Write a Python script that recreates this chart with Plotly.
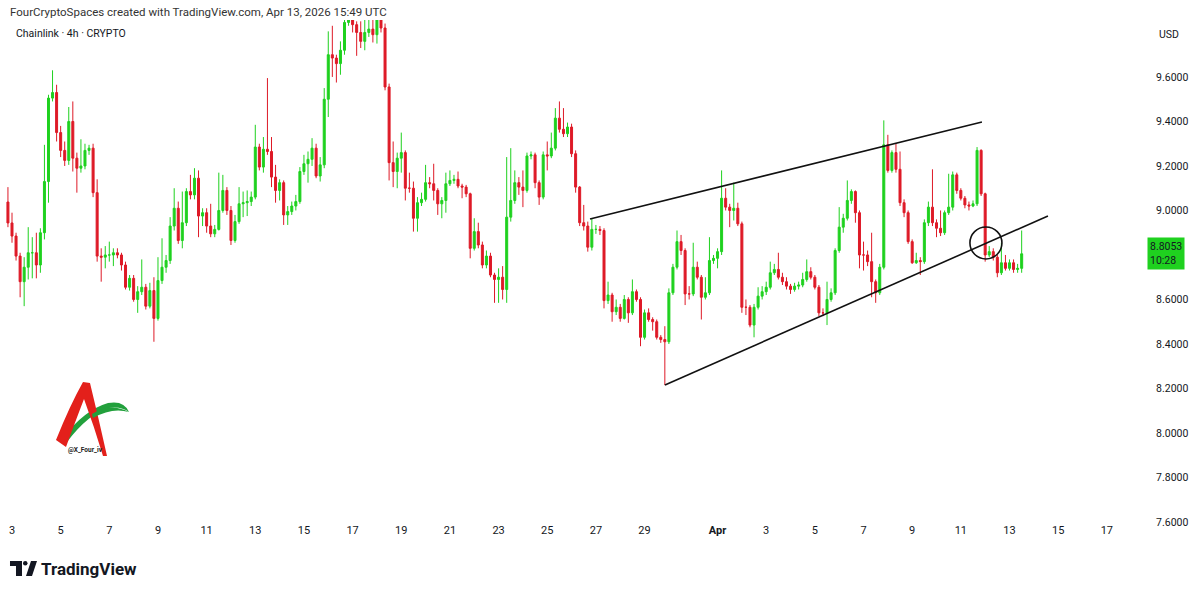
import pandas as pd
import plotly.graph_objects as go

# ---------------- data ----------------
first_open = 9.038
start_time = "2026-03-02 20:00"

closes = [
    8.944,
    8.885, 8.795, 8.68, 8.745, 8.81, 8.81,
    8.755, 8.9, 9.13, 9.505, 9.53, 9.35,
    9.27, 9.225, 9.4, 9.235, 9.19, 9.2,
    9.27, 9.28, 9.08, 8.795, 8.79, 8.8,
    8.8, 8.81, 8.8, 8.755, 8.655, 8.695,
    8.6, 8.635, 8.655, 8.57, 8.64, 8.515,
    8.685, 8.745, 8.775, 8.93, 9.01, 8.865,
    8.945, 9.085, 9.07, 9.145, 8.975, 8.99,
    8.93, 8.895, 8.915, 9.0, 9.09, 9.0,
    8.865, 8.95, 9.03, 9.035, 9.04, 9.06,
    9.285, 9.195, 9.275, 9.265, 9.15, 9.09,
    9.125, 8.98, 8.995, 9.02, 9.04, 9.175,
    9.21, 9.23, 9.28, 9.155, 9.205, 9.5,
    9.7, 9.685, 9.66, 9.72, 9.845, 9.95,
    9.835, 9.8, 9.76, 9.8, 9.815, 9.79,
    9.9, 9.82, 9.555, 9.215, 9.175, 9.235,
    9.26, 9.1, 9.1, 8.965, 9.035, 9.05,
    9.125, 9.12, 9.09, 9.03, 9.045, 9.12,
    9.135, 9.14, 9.11, 9.105, 9.075, 8.83,
    8.905, 8.845, 8.755, 8.795, 8.71, 8.69,
    8.7, 8.645, 8.97, 9.045, 9.125, 9.105,
    9.09, 9.245, 9.25, 9.125, 9.06, 9.25,
    9.245, 9.28, 9.415, 9.365, 9.345, 9.375,
    9.255, 9.105, 8.945, 8.93, 8.835, 8.915,
    8.915, 8.91, 8.595, 8.62, 8.545, 8.565,
    8.515, 8.6, 8.54, 8.635, 8.6, 8.43,
    8.54, 8.51, 8.5, 8.43, 8.42, 8.41,
    8.63, 8.745, 8.86, 8.82, 8.625, 8.625,
    8.745, 8.7, 8.61, 8.63, 8.775, 8.785,
    8.815, 9.055, 9.015, 9.0, 9.01, 8.94,
    8.565, 8.565, 8.485, 8.565, 8.615, 8.635,
    8.655, 8.72, 8.735, 8.7, 8.68, 8.66,
    8.645, 8.66, 8.665, 8.69, 8.725, 8.7,
    8.655, 8.54, 8.54, 8.6, 8.63, 8.82,
    8.925, 8.965, 9.045, 9.085, 8.99, 8.8,
    8.8, 8.77, 8.68, 8.63, 8.745, 9.295,
    9.18, 9.26, 9.185, 9.035, 8.99, 8.86,
    8.765, 8.775, 8.77, 8.945, 9.015, 8.945,
    8.92, 8.9, 8.99, 9.015, 9.16, 9.09,
    9.055, 9.025, 9.02, 9.03, 9.27, 9.075,
    8.8, 8.815, 8.79, 8.72, 8.765, 8.74,
    8.765, 8.735, 8.74, 8.8053,
]

highs = [
    9.105,
    8.99, 8.9, 8.81, 8.79, 8.925, 8.88,
    8.9, 8.92, 9.295, 9.52, 9.63, 9.565,
    9.38, 9.31, 9.465, 9.49, 9.26, 9.32,
    9.3, 9.295, 9.3, 9.14, 8.83, 8.84,
    8.86, 8.83, 8.83, 8.81, 8.77, 8.71,
    8.71, 8.66, 8.78, 8.67, 8.675, 8.7,
    8.79, 8.875, 8.8, 8.97, 9.1, 9.04,
    9.085, 9.1, 9.16, 9.19, 9.18, 9.01,
    9.01, 9.03, 8.935, 9.17, 9.16, 9.105,
    9.02, 8.98, 9.105, 9.085, 9.09, 9.085,
    9.385, 9.3, 9.33, 9.595, 9.33, 9.205,
    9.14, 9.135, 9.02, 9.04, 9.07, 9.195,
    9.25, 9.265, 9.325, 9.3, 9.24, 9.55,
    9.805, 9.83, 9.7, 9.76, 9.9, 10.0,
    9.98, 9.85, 9.85, 9.87, 9.87, 9.87,
    9.95, 9.93, 9.84, 9.57, 9.31, 9.26,
    9.35, 9.27, 9.17, 9.13, 9.06, 9.08,
    9.205, 9.15, 9.21, 9.1, 9.06, 9.17,
    9.18, 9.16, 9.175, 9.12, 9.115, 9.08,
    8.965, 8.945, 8.86, 8.82, 8.81, 8.72,
    8.74, 8.75, 9.24, 9.28, 9.18, 9.15,
    9.18, 9.26, 9.265, 9.26, 9.135, 9.265,
    9.31, 9.35, 9.46, 9.49, 9.46, 9.395,
    9.39, 9.27, 9.11, 9.025, 8.95, 8.965,
    8.935, 8.93, 8.92, 8.68, 8.63, 8.6,
    8.58, 8.62, 8.61, 8.69, 8.645, 8.61,
    8.555, 8.56, 8.52, 8.51, 8.44, 8.48,
    8.65, 8.76, 8.91, 8.89, 8.83, 8.66,
    8.855, 8.77, 8.71, 8.7, 8.88, 8.8,
    8.83, 9.18, 9.1, 9.03, 9.125, 9.035,
    8.95, 8.6, 8.575, 8.58, 8.655, 8.66,
    8.68, 8.77, 8.76, 8.81, 8.72, 8.7,
    8.67, 8.675, 8.68, 8.72, 8.78, 8.745,
    8.71, 8.665, 8.56, 8.68, 8.65, 8.83,
    9.015, 8.985, 9.135, 9.095, 9.09, 9.0,
    8.86, 8.82, 8.9, 8.69, 8.76, 9.405,
    9.34, 9.27, 9.3, 9.265, 9.05, 9.0,
    8.87, 8.81, 8.79, 8.96, 9.04, 9.185,
    8.96, 9.0, 9.0, 9.165, 9.175, 9.17,
    9.1, 9.065, 9.04, 9.045, 9.285, 9.275,
    9.08, 8.84, 8.83, 8.8, 8.855, 8.8,
    8.78, 8.78, 8.76, 8.91,
]

lows = [
    8.925,
    8.855, 8.775, 8.61, 8.57, 8.69, 8.695,
    8.695, 8.72, 8.87, 9.035, 9.49, 9.31,
    9.24, 9.2, 9.205, 9.175, 9.08, 9.17,
    9.185, 9.25, 9.06, 8.77, 8.68, 8.74,
    8.77, 8.75, 8.785, 8.73, 8.645, 8.64,
    8.59, 8.54, 8.62, 8.555, 8.56, 8.41,
    8.505, 8.67, 8.72, 8.76, 8.91, 8.85,
    8.83, 8.93, 9.05, 9.05, 8.88, 8.93,
    8.9, 8.88, 8.88, 8.91, 8.99, 8.98,
    8.845, 8.855, 8.94, 8.97, 8.975, 9.02,
    9.05, 9.18, 9.17, 9.25, 9.105, 9.035,
    9.045, 8.935, 8.935, 8.98, 9.0, 9.03,
    9.16, 9.125, 9.2, 9.145, 9.13, 9.19,
    9.42, 9.6, 9.575, 9.61, 9.7, 9.83,
    9.8, 9.695, 9.73, 9.72, 9.78, 9.755,
    9.75, 9.8, 9.54, 9.135, 9.105, 9.1,
    9.17, 9.045, 9.08, 8.905, 8.905, 9.02,
    9.04, 9.1, 9.045, 8.98, 8.965, 8.99,
    9.11, 9.12, 9.1, 9.055, 9.06, 8.785,
    8.82, 8.83, 8.74, 8.74, 8.7, 8.585,
    8.585, 8.6, 8.585, 8.95, 9.03, 9.07,
    9.015, 9.08, 9.23, 9.1, 9.025, 9.05,
    9.18, 9.235, 9.27, 9.35, 9.33, 9.33,
    9.24, 9.08, 8.93, 8.91, 8.815, 8.82,
    8.895, 8.89, 8.56, 8.58, 8.5, 8.53,
    8.5, 8.51, 8.495, 8.53, 8.59, 8.39,
    8.42, 8.5, 8.46, 8.42, 8.405, 8.215,
    8.4, 8.62, 8.735, 8.8, 8.575, 8.6,
    8.615, 8.69, 8.51, 8.6, 8.62, 8.76,
    8.74, 8.8, 9.0, 8.925, 8.955, 8.93,
    8.54, 8.53, 8.475, 8.43, 8.555, 8.6,
    8.62, 8.645, 8.71, 8.69, 8.665, 8.645,
    8.625, 8.635, 8.645, 8.655, 8.68, 8.69,
    8.645, 8.525, 8.525, 8.485, 8.59, 8.62,
    8.81, 8.9, 8.955, 9.03, 8.945, 8.74,
    8.73, 8.75, 8.61, 8.585, 8.62, 8.735,
    9.17, 9.17, 9.17, 9.02, 8.97, 8.85,
    8.76, 8.76, 8.71, 8.76, 8.93, 8.93,
    8.88, 8.885, 8.89, 8.98, 9.0, 9.075,
    9.045, 9.01, 9.0, 9.015, 9.02, 9.065,
    8.77, 8.79, 8.775, 8.7, 8.71, 8.73,
    8.73, 8.72, 8.72, 8.72,
]

opens = [first_open] + closes[:-1]
times = pd.date_range(start=start_time, periods=len(closes), freq="4h")

# axis ticks
x_tick_dates = ["2026-03-03", "2026-03-05", "2026-03-07", "2026-03-09", "2026-03-11",
                "2026-03-13", "2026-03-15", "2026-03-17", "2026-03-19", "2026-03-21",
                "2026-03-23", "2026-03-25", "2026-03-27", "2026-03-29", "2026-04-01",
                "2026-04-03", "2026-04-05", "2026-04-07", "2026-04-09", "2026-04-11",
                "2026-04-13", "2026-04-15", "2026-04-17"]
x_tick_labels = ["3", "5", "7", "9", "11", "13", "15", "17", "19", "21", "23", "25",
                 "27", "29", "<b>Apr</b>", "3", "5", "7", "9", "11", "13", "15", "17"]
# 8.8000 is hidden behind the last-price label in the reference
y_tick_values = [7.6, 7.8, 8.0, 8.2, 8.4, 8.6, 9.0, 9.2, 9.4, 9.6]
y_tick_labels = ["7.6000", "7.8000", "8.0000", "8.2000", "8.4000", "8.6000",
                 "9.0000", "9.2000", "9.4000", "9.6000"]

# drawings (wedge lines and circle)
upper_line_x = ["2026-03-26 18:10", "2026-04-11 20:50"]
upper_line_y = [8.962, 9.398]
lower_line_x = ["2026-03-29 20:08", "2026-04-14 13:55"]
lower_line_y = [8.216, 8.975]
circle_center = ("2026-04-12 00:45", 8.854)
last_price = 8.8053
countdown = "10:28"

# ---------------- figure ----------------
W, H = 1200, 592
ML, MR, MT, MB = 0, 55, 20, 70
PW, PH = W - ML - MR, H - MT - MB


def px(x):
    return (x - ML) / PW


def py(y):
    return (H - MB - y) / PH


def svg(cmds):
    out = []
    for letter, pts in cmds:
        coords = " ".join(f"{px(a):.5f},{py(b):.5f}" for a, b in pts)
        out.append(f"{letter} {coords}".strip())
    return " ".join(out)


def path(points):
    return svg([("M", [points[0]])] + [("L", [p]) for p in points[1:]] + [("Z", [])])


GREEN = "#1fd11f"
RED = "#de1a27"
TXT = "#131722"
FONT = "Roboto"

fig = go.Figure()
fig.add_trace(go.Candlestick(
    x=times, open=opens, high=highs, low=lows, close=closes,
    increasing=dict(line=dict(color=GREEN, width=1), fillcolor=GREEN),
    decreasing=dict(line=dict(color=RED, width=1), fillcolor=RED),
    whiskerwidth=0, hoverinfo="skip", showlegend=False,
))

shapes = [
    dict(type="line", xref="x", yref="y", x0=upper_line_x[0], x1=upper_line_x[1],
         y0=upper_line_y[0], y1=upper_line_y[1], line=dict(color="#111111", width=1.6)),
    dict(type="line", xref="x", yref="y", x0=lower_line_x[0], x1=lower_line_x[1],
         y0=lower_line_y[0], y1=lower_line_y[1], line=dict(color="#111111", width=1.6)),
    dict(type="circle", xref="x", yref="y", xsizemode="pixel", ysizemode="pixel",
         xanchor=circle_center[0], yanchor=circle_center[1], x0=-16, x1=16, y0=-16, y1=16,
         line=dict(color="#111111", width=1.6)),
    # watermark logo: green swoosh behind, red "A" on top, swoosh tail over
    dict(type="path", xref="paper", yref="paper", layer="above",
         path=svg([("M", [(62, 439)]), ("Q", [(84, 410), (108, 403)]),
                   ("Q", [(124, 400), (129, 412)]), ("Q", [(121, 406), (109, 408)]),
                   ("Q", [(88, 414), (67, 442)]), ("Z", [])]),
         fillcolor="#22a03c", line=dict(width=0)),
    dict(type="path", xref="paper", yref="paper", layer="above",
         path=svg([("M", [(56, 440)]), ("Q", [(70, 405), (83, 382)]), ("L", [(90, 383)]),
                   ("Q", [(99, 420), (107, 456)]), ("L", [(103, 456)]),
                   ("Q", [(94, 426), (84, 399)]), ("Q", [(74, 425), (66, 447)]), ("Z", [])]),
         fillcolor="#e3201b", line=dict(width=0)),
    dict(type="path", xref="paper", yref="paper", layer="above",
         path=svg([("M", [(92, 414)]), ("Q", [(110, 402), (129, 412)]),
                   ("Q", [(112, 407), (93, 418)]), ("Z", [])]),
         fillcolor="#22a03c", line=dict(width=0)),
    # TradingView logo mark
    dict(type="path", xref="paper", yref="paper",
         path=path([(10, 561), (22, 561), (22, 576), (16, 576), (16, 566), (10, 566)]),
         fillcolor="#131722", line=dict(width=0)),
    dict(type="circle", xref="paper", yref="paper", x0=px(23), x1=px(27.5), y0=py(561), y1=py(565.5),
         fillcolor="#131722", line=dict(width=0)),
    dict(type="path", xref="paper", yref="paper",
         path=path([(26, 576), (31, 561), (37, 561), (32, 576)]),
         fillcolor="#131722", line=dict(width=0)),
]

annotations = [
    dict(text="FourCryptoSpaces created with TradingView.com, Apr 13, 2026 15:49 UTC",
         x=px(8), y=py(12), xref="paper", yref="paper", xanchor="left", yanchor="middle",
         showarrow=False, font=dict(family=FONT, size=11.5, color="#333333")),
    dict(text="Chainlink · 4h · CRYPTO", x=px(14), y=py(34), xref="paper", yref="paper",
         xanchor="left", yanchor="middle", showarrow=False,
         font=dict(family=FONT, size=10.5, color=TXT)),
    dict(text="USD", x=px(1157), y=py(35), xref="paper", yref="paper", xanchor="left",
         yanchor="middle", showarrow=False, font=dict(family=FONT, size=10.5, color=TXT)),
    dict(text=f"{last_price:.4f}<br>{countdown}", x=px(1147), y=last_price, xref="paper",
         yref="y", xanchor="left", yanchor="middle", showarrow=False, align="left",
         bgcolor=GREEN, borderpad=2, font=dict(family=FONT, size=10.5, color=TXT)),
    dict(text="<b>@X_Four_iv</b>", x=px(85), y=py(450), xref="paper", yref="paper",
         xanchor="center", yanchor="middle", showarrow=False,
         font=dict(family=FONT, size=6.5, color="#222222")),
    dict(text="<b>TradingView</b>", x=px(39), y=py(568.5), xref="paper", yref="paper",
         xanchor="left", yanchor="middle", showarrow=False,
         font=dict(family=FONT, size=17, color=TXT)),
]

fig.update_layout(
    width=W, height=H,
    margin=dict(l=ML, r=MR, t=MT, b=MB),
    paper_bgcolor="white", plot_bgcolor="white",
    showlegend=False, hovermode=False,
    shapes=shapes, annotations=annotations,
    font=dict(family=FONT, size=11, color=TXT),
    xaxis=dict(
        type="date", range=["2026-03-02 12:10", "2026-04-18 13:40"],
        tickvals=x_tick_dates, ticktext=x_tick_labels, tickangle=0,
        showgrid=False, zeroline=False, showline=False, ticks="",
        rangeslider=dict(visible=False), tickfont=dict(size=11, color=TXT),
    ),
    yaxis=dict(
        side="right", range=[7.6, 9.856], tickvals=y_tick_values, ticktext=y_tick_labels,
        showgrid=False, zeroline=False, showline=False, ticks="outside", ticklen=8,
        tickcolor="white", tickfont=dict(size=10.5, color=TXT),
    ),
)

fig.write_html("out.html", config={"displayModeBar": False},
               post_script="document.body.style.margin='0';document.body.style.overflow='hidden';")
